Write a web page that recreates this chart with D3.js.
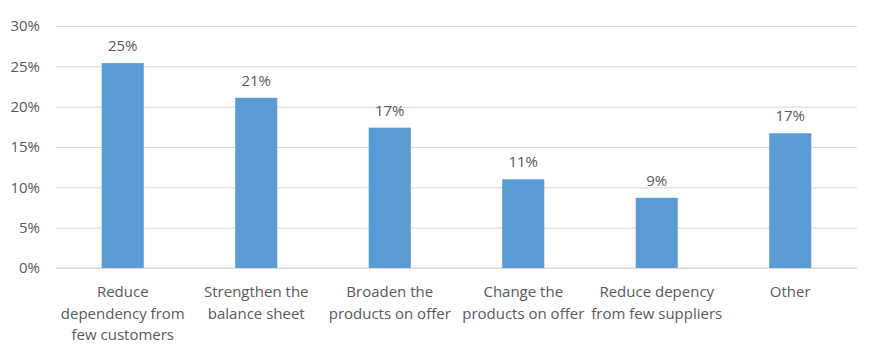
<!DOCTYPE html>
<html>
<head>
<meta charset="utf-8">
<script src="https://cdn.jsdelivr.net/npm/d3@7"></script>
<style>
  body { margin: 0; background: #fff; }
  text { font-family: "Open Sans", sans-serif; fill: #595959; }
</style>
</head>
<body>
<svg width="870" height="346"></svg>
<script>
const categories = [
  "Reduce\ndependency from\nfew customers",
  "Strengthen the\nbalance sheet",
  "Broaden the\nproducts on offer",
  "Change the\nproducts on offer",
  "Reduce depency\nfrom few suppliers",
  "Other"
];
const values = [0.254, 0.211, 0.174, 0.110, 0.087, 0.167];
const yTicks = [0, 0.05, 0.10, 0.15, 0.20, 0.25, 0.30];

const svg = d3.select('svg');
const margin = { top: 26, right: 13, bottom: 78, left: 56 };
const width = +svg.attr('width') - margin.left - margin.right;
const height = +svg.attr('height') - margin.top - margin.bottom;
const g = svg.append('g')
  .attr('transform', `translate(${margin.left},${margin.top})`);

const x = d3.scaleBand()
  .domain(categories)
  .range([0, width])
  .paddingInner(0.685)
  .paddingOuter(0.3425);
const y = d3.scaleLinear()
  .domain([0, 0.30])
  .range([height, 0]);

// gridlines + y labels
const yAxis = g.append('g')
  .call(d3.axisLeft(y).tickValues(yTicks).tickFormat(d3.format('.0%')).tickSize(-width).tickPadding(16));
yAxis.select('.domain').remove();
yAxis.selectAll('.tick line').attr('stroke', '#d9d9d9').attr('stroke-width', 1);
yAxis.selectAll('.tick text').attr('font-size', 15).attr('fill', '#595959');

// x axis line
g.append('line')
  .attr('x1', 0).attr('x2', width)
  .attr('y1', y(0)).attr('y2', y(0))
  .attr('stroke', '#d9d9d9');

g.selectAll('.bar')
  .data(values)
  .enter().append('rect')
  .attr('class', 'bar')
  .attr('x', (d, i) => x(categories[i]))
  .attr('y', d => y(d))
  .attr('width', x.bandwidth())
  .attr('height', d => y(0) - y(d))
  .attr('fill', '#5b9bd5');

g.selectAll('.value')
  .data(values)
  .enter().append('text')
  .attr('x', (d, i) => x(categories[i]) + x.bandwidth() / 2)
  .attr('y', d => y(d) - 12)
  .attr('text-anchor', 'middle')
  .attr('font-size', 15)
  .text(d3.format('.0%'));

const cat = g.selectAll('.cat')
  .data(categories)
  .enter().append('text')
  .attr('class', 'cat')
  .attr('text-anchor', 'middle')
  .attr('font-size', 15)
  .attr('transform', d => `translate(${x(d) + x.bandwidth() / 2},${y(0) + 29})`);
cat.selectAll('tspan')
  .data(d => d.split('\n'))
  .enter().append('tspan')
  .attr('x', 0)
  .attr('dy', (d, i) => i === 0 ? 0 : 21.5)
  .text(d => d);
</script>
</body>
</html>
